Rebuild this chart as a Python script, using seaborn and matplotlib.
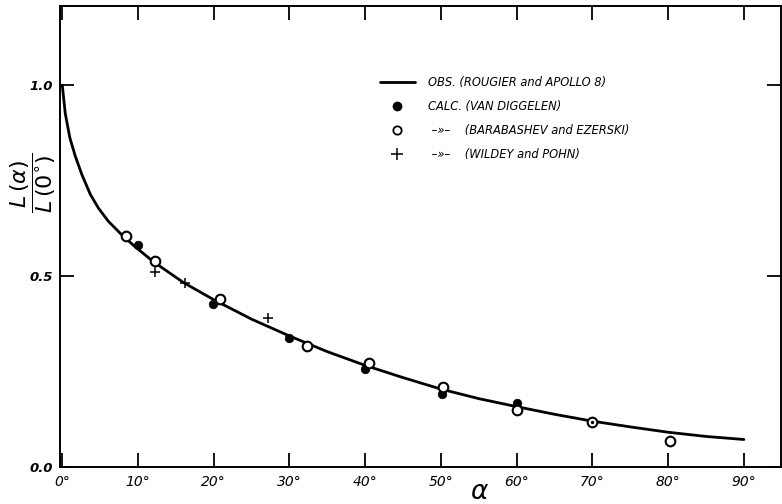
import matplotlib
matplotlib.use("Agg")
import matplotlib.pyplot as plt
import seaborn as sns
import numpy as np
import pandas as pd
from matplotlib.lines import Line2D

# ---- data ----
obs_alpha = [0, 0.4, 1.0, 1.7, 2.6, 3.7, 4.8, 6.1, 7.9, 9.6, 12, 16, 20, 25, 30,
             35, 40, 45, 50, 55, 60, 65, 70, 75, 80, 85, 90]
obs_L = [1.0, 0.925, 0.862, 0.815, 0.765, 0.714, 0.677, 0.643, 0.607, 0.577, 0.538,
         0.483, 0.438, 0.387, 0.343, 0.302, 0.266, 0.234, 0.204, 0.179, 0.158,
         0.138, 0.120, 0.105, 0.091, 0.080, 0.072]

calc_alpha = [10.0, 19.9, 30.0, 40.0, 50.1, 60.0]
calc_L = [0.581, 0.426, 0.339, 0.257, 0.190, 0.167]

bar_alpha = [8.4, 12.2, 20.8, 32.3, 40.5, 50.3, 60.0, 70.0, 80.2]
bar_L = [0.605, 0.539, 0.440, 0.317, 0.271, 0.209, 0.149, 0.119, 0.069]

dot70_alpha = [70.0]
dot70_L = [0.119]

wild_alpha = [12.2, 16.2, 27.2]
wild_L = [0.511, 0.481, 0.389]

x_ticks = [0, 10, 20, 30, 40, 50, 60, 70, 80, 90]
x_ticklabels = ["0°", "10°", "20°", "30°", "40°", "50°", "60°", "70°", "80°", "90°"]
y_ticks = [0.0, 0.5, 1.0]
y_ticklabels = ["0.0", "0.5", "1.0"]

legend_labels = ["OBS. (ROUGIER and APOLLO 8)",
                 "CALC. (VAN DIGGELEN)",
                 " –»–    (BARABASHEV and EZERSKI)",
                 " –»–    (WILDEY and POHN)"]

# ---- plot ----
sns.set_theme(style="white")
plt.rcParams["font.family"] = ["DejaVu Sans"]
plt.rcParams["mathtext.fontset"] = "dejavusans"

fig = plt.figure(figsize=(7.82, 5.04), dpi=100)
ax = fig.add_axes([60/782, 1-467/504, 721/782, 461/504])

obs_df = pd.DataFrame({"alpha": obs_alpha, "L": obs_L})
sns.lineplot(data=obs_df, x="alpha", y="L", ax=ax, color="black", lw=2.0,
             sort=True, estimator=None)

sns.scatterplot(x=calc_alpha, y=calc_L, ax=ax, color="black", s=38,
                marker="o", edgecolor="black", linewidth=0.5, zorder=3)
sns.scatterplot(x=bar_alpha, y=bar_L, ax=ax, facecolor="white", s=48,
                marker="o", edgecolor="black", linewidth=1.5, zorder=4)
sns.scatterplot(x=dot70_alpha, y=dot70_L, ax=ax, color="black", s=6,
                marker="o", edgecolor="black", linewidth=0, zorder=5)
sns.scatterplot(x=wild_alpha, y=wild_L, ax=ax, color="black", s=60,
                marker="+", linewidth=1.1, zorder=4)

ax.set_xlim(-0.3, 94.9)
ax.set_ylim(0, 1.207)

ax.set_xticks(x_ticks)
ax.set_xticklabels(x_ticklabels, fontsize=10, fontstyle="italic")
ax.set_yticks(y_ticks)
ax.set_yticklabels(y_ticklabels, fontsize=9.5, fontstyle="italic", fontweight="bold")

ax.tick_params(axis="both", which="both", direction="in", length=10, width=1.3,
               color="black", top=True, right=True, bottom=True, left=True,
               labelcolor="black")
ax.tick_params(axis="x", pad=6)
ax.tick_params(axis="y", pad=5)

for sp in ax.spines.values():
    sp.set_visible(True)
    sp.set_color("black")
    sp.set_linewidth(1.4)

ax.set_xlabel(r"$\alpha$", fontsize=19, color="black")
ax.xaxis.set_label_coords((480-60)/721, (467-492)/461)
ax.xaxis.label.set_va("center")

ax.set_ylabel(r"$\dfrac{L\,(\alpha)}{L\,(0^{\circ})}$", fontsize=16, color="black",
              rotation=90)
ax.yaxis.set_label_coords((33-60)/721, (467-183)/461)
ax.yaxis.label.set_va("center")

handles = [
    Line2D([], [], color="black", lw=2.0),
    Line2D([], [], color="black", marker="o", ls="none", markersize=6),
    Line2D([], [], color="black", marker="o", ls="none", markersize=6,
           markerfacecolor="white", markeredgewidth=1.3),
    Line2D([], [], color="black", marker="+", ls="none", markersize=8,
           markeredgewidth=1.1),
]
leg = ax.legend(handles, legend_labels, loc="upper left",
                bbox_to_anchor=((380-60)/721, (467-76)/461),
                frameon=False, handlelength=3.0, handletextpad=1.2,
                labelspacing=0.95, borderpad=0, borderaxespad=0,
                prop={"size": 8.3, "style": "italic"})
for t in leg.get_texts():
    t.set_color("black")

fig.savefig("out.png", dpi=100, facecolor="white")
